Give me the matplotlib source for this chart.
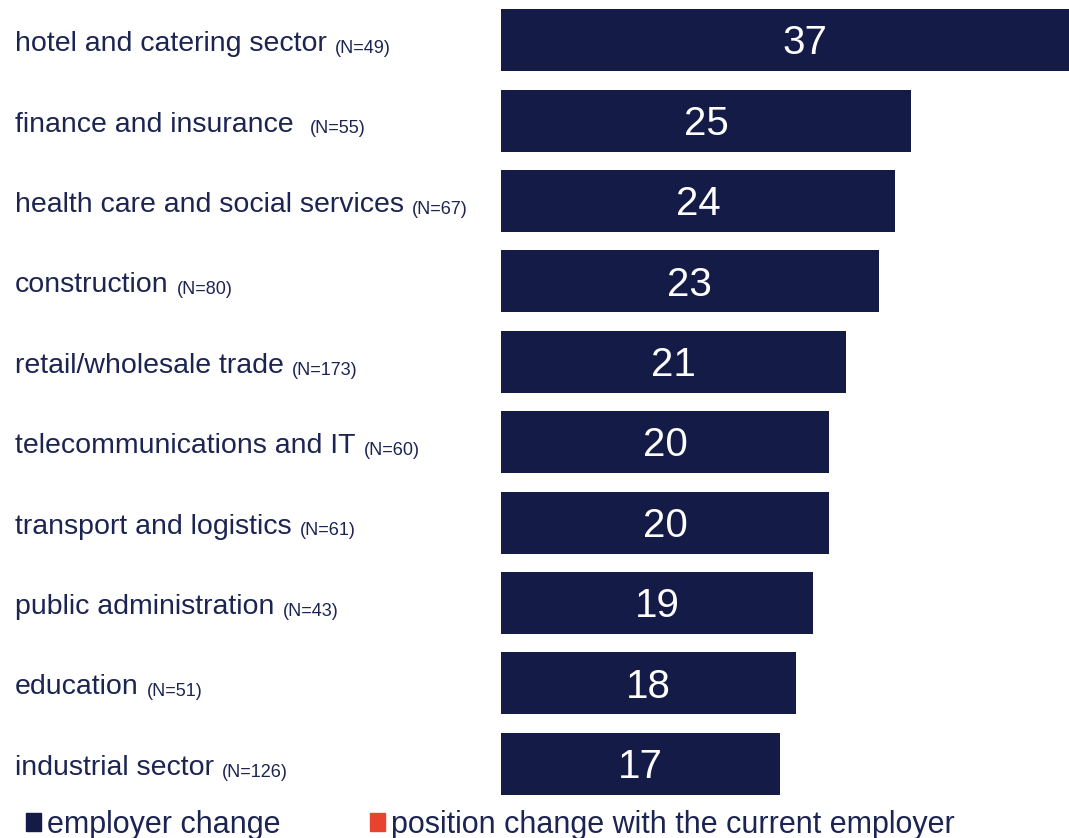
import matplotlib
matplotlib.use('Agg')
import matplotlib.pyplot as plt
from matplotlib.patches import Patch
from matplotlib.transforms import blended_transform_factory

plt.rcParams['font.family'] = ['Liberation Sans', 'DejaVu Sans']

# share (%) of people who changed employer, by sector
sectors = ['hotel and catering sector', 'finance and insurance ', 'health care and social services',
           'construction', 'retail/wholesale trade', 'telecommunications and IT',
           'transport and logistics', 'public administration', 'education', 'industrial sector']
sample_sizes = [49, 55, 67, 80, 173, 60, 61, 43, 51, 126]
employer_change = [37, 25, 24, 23, 21, 20, 20, 19, 18, 17]
legend_labels = ['employer change', 'position change with the current employer']

navy = '#131b46'
text_col = '#1c2452'
red = '#e8432f'

fig = plt.figure(figsize=(10.69, 8.38), dpi=100)
ax = fig.add_axes([501 / 1069, 34 / 838, 568 / 1069, 804 / 838])

ypos = list(range(len(sectors)))
ax.barh(ypos, employer_change, height=0.77, color=navy)
ax.set_xlim(0, 34.6)
ax.set_ylim(len(sectors) - 0.5, -0.5)
ax.axis('off')

for y, v in zip(ypos, employer_change):
    ax.text(v / 2, y - 0.01, str(v), ha='center', va='center_baseline',
            color='white', fontsize=29)

# sector names sit in figure space on the left, aligned to the bar rows
trans = blended_transform_factory(fig.transFigure, ax.transData)
name_texts = []
for y, name in zip(ypos, sectors):
    t = ax.text(15 / 1069, y + 0.137, name, transform=trans, ha='left', va='baseline',
                fontsize=20.5, color=text_col)
    name_texts.append(t)

fig.canvas.draw()
renderer = fig.canvas.get_renderer()
for t, y, n in zip(name_texts, ypos, sample_sizes):
    bb = t.get_window_extent(renderer=renderer)
    x = (bb.x1 + 8) / fig.bbox.width
    ax.text(x, y + 0.16, f'(N={n})', transform=trans, ha='left', va='baseline',
            fontsize=13, color=text_col)

handles = [Patch(color=navy), Patch(color=red)]
fig.legend(handles, legend_labels, loc='lower left', bbox_to_anchor=(26 / 1069, -2 / 838),
           ncol=2, frameon=False, fontsize=22, handlelength=0.5, handleheight=0.5,
           handletextpad=0.2, columnspacing=2.9, borderpad=0, borderaxespad=0,
           labelcolor=text_col)

fig.savefig('out.png', dpi=100)
